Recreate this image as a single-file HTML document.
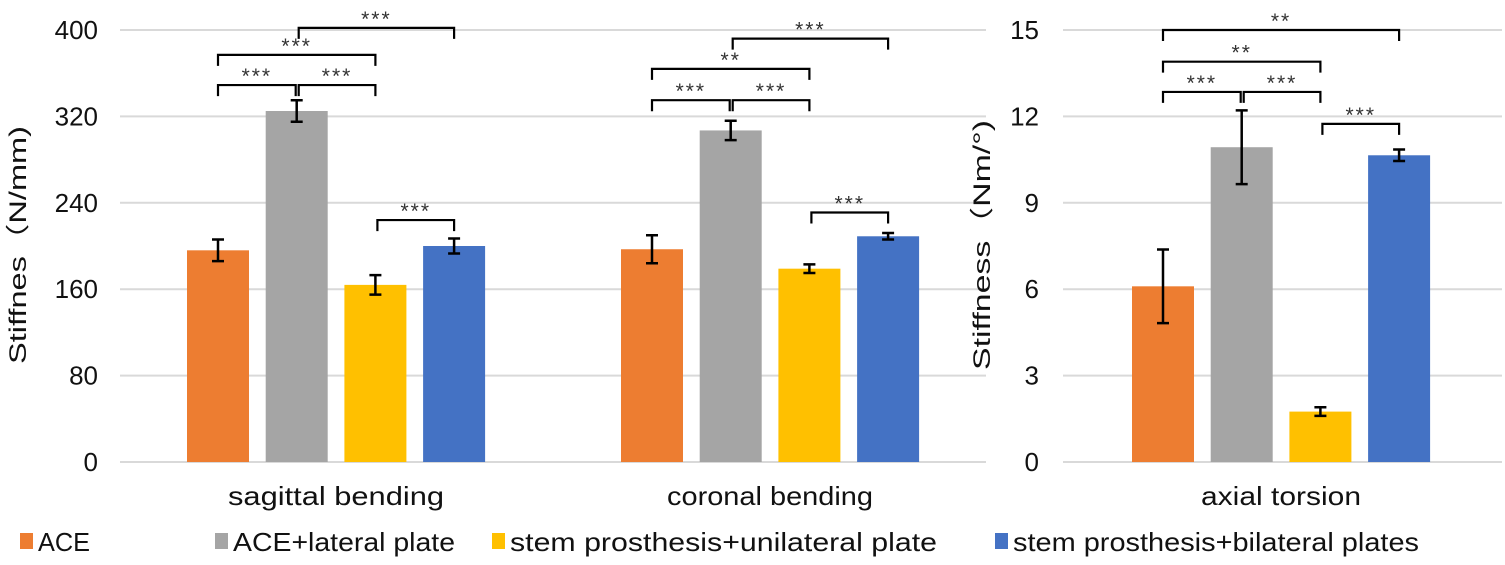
<!DOCTYPE html>
<html><head><meta charset="utf-8"><style>
body{margin:0;background:#fff;}
svg{display:block;font-family:"Liberation Sans",sans-serif;}
</style></head><body>
<svg id="c" width="1505" height="565"></svg>
<script>
const series=["ACE","ACE+lateral plate","stem prosthesis+unilateral plate","stem prosthesis+bilateral plates"];
const colors=["#ED7D31","#A5A5A5","#FFC000","#4472C4"];
const leftCats=["sagittal bending","coronal bending"];
const leftVals=[[196,325,164,200],[197,307,179,209]];
const leftErr=[[10,10,9,7],[13,9,4,3]];
const leftTicks=[0,80,160,240,320,400];
const rightCats=["axial torsion"];
const rightVals=[[6.1,10.93,1.75,10.65]];
const rightErr=[[1.28,1.28,0.15,0.2]];
const rightTicks=[0,3,6,9,12,15];
// brackets: [catIndex, fromSeries, toSeries, level, label]
const leftBrackets=[[0,0,1,349,"***"],[0,1,2,349,"***"],[0,0,2,377,"***"],[0,1,3,402,"***"],[0,2,3,224,"***"],
 [1,0,1,335,"***"],[1,1,2,335,"***"],[1,0,2,364,"**"],[1,1,3,392,"***"],[1,2,3,231,"***"]];
const rightBrackets=[[0,0,1,12.85,"***"],[0,1,2,12.85,"***"],[0,0,2,13.9,"**"],[0,0,3,15.0,"**"],[0,2,3,11.74,"***"]];

const svg=document.getElementById('c');const NS="http://www.w3.org/2000/svg";
function el(t,a,txt){const e=document.createElementNS(NS,t);for(const k in a)e.setAttribute(k,a[k]);if(txt!==undefined)e.textContent=txt;svg.appendChild(e);return e;}
const y0=462,yTop=30;
function panel(p){
 const ys=v=>y0-(v/p.max)*(y0-yTop);
 p.ticks.forEach(t=>{
  const g=el('line',{x1:p.gx1,x2:p.gx2,y1:ys(t),y2:ys(t),stroke:'#d9d9d9','stroke-width':2});
  
  
  const l=el('text',{x:p.tx,y:ys(t)+9,'text-anchor':'end','font-size':26,fill:'#111'},t);
  
  
 });
 const ya=el('text',{transform:`translate(${p.ax},245) rotate(-90)`,'text-anchor':'middle','font-size':24,fill:'#111',textLength:p.tl,lengthAdjust:'spacingAndGlyphs'},p.title);
 
 
 const bx=(c,s)=>p.cx[c]-149+s*78.7;
 p.cats.forEach((cat,c)=>{
  p.vals[c].forEach((v,s)=>{
   const x=bx(c,s);
   const r=el('rect',{x:x,y:ys(v),width:62,height:y0-ys(v),fill:colors[s]});
   
   
   const m=x+31,e=p.err[c][s],a=ys(v+e),b=ys(v-e);
   const eb=el('path',{d:`M${m},${a}V${b}M${m-6},${a}H${m+6}M${m-6},${b}H${m+6}`,stroke:'#000','stroke-width':2.5,fill:'none'});
   
   
  });
  const ct=el('text',{x:p.cx[c],y:505,'text-anchor':'middle','font-size':26,fill:'#111',textLength:p.cl[c],lengthAdjust:'spacingAndGlyphs'},cat);
  
  
 });
 p.br.forEach(([c,a,b,lv,lab])=>{
  const x1=bx(c,a)+31+(a>0?2:0),x2=bx(c,b)+31-(b-a==1&&a==0?1:0),y=ys(lv);
  const br=el('path',{d:`M${x1},${y+11}V${y}H${x2}V${y+11}`,stroke:'#000','stroke-width':2.2,fill:'none'});
  
  
  const st=el('text',{x:(x1+x2)/2,y:y-2,'text-anchor':'middle','font-size':21,'letter-spacing':2,fill:'#333'},lab);
  
  
 });
}
panel({max:400,ticks:leftTicks,gx1:120,gx2:986,tx:98,ax:26,tl:238,title:"Stiffnes（N/mm)",cats:leftCats,vals:leftVals,err:leftErr,cx:[336,770],cl:[216,206],br:leftBrackets});
panel({max:15,ticks:rightTicks,gx1:1063,gx2:1502,tx:1039,ax:990,tl:250,title:"Stiffness（Nm/°)",cats:rightCats,vals:rightVals,err:rightErr,cx:[1281],cl:[160],br:rightBrackets});
const lx=[20,215,492,995];
const ll=[52,222,427,406];
series.forEach((s,i)=>{
 const r=el('rect',{x:lx[i],y:533,width:13,height:16,fill:colors[i]});
 
 
 const t=el('text',{x:lx[i]+18,y:551,'font-size':26,fill:'#111',textLength:ll[i],lengthAdjust:'spacingAndGlyphs'},s);
 
 
});
</script>
</body></html>
